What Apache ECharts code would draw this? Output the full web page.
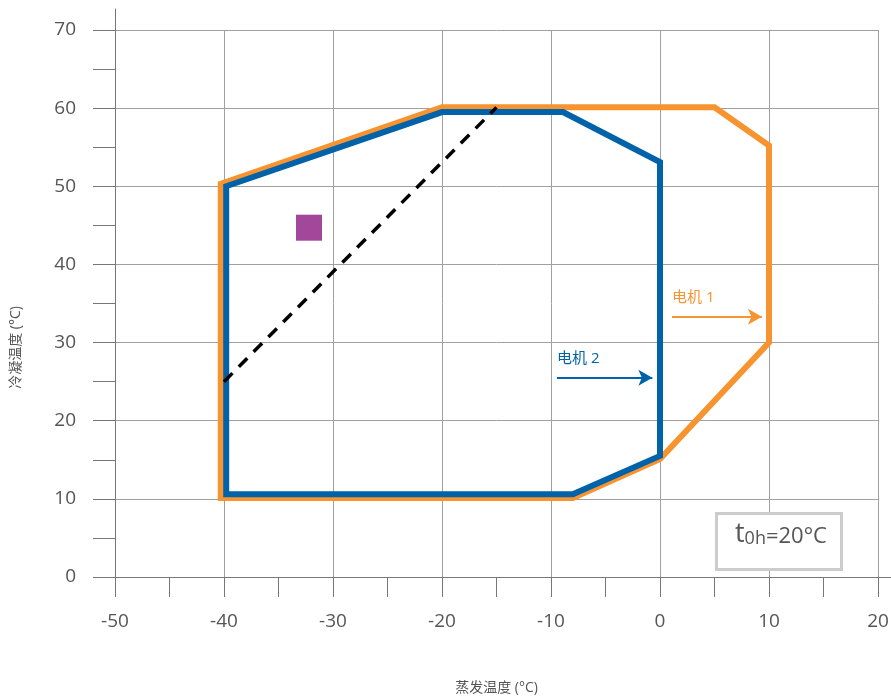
<!DOCTYPE html>
<html>
<head>
<meta charset="utf-8">
<script src="https://cdn.jsdelivr.net/npm/echarts@6/dist/echarts.min.js"></script>
<style>html,body{margin:0;padding:0;background:#fff}#c{width:891px;height:697px}</style>
</head>
<body>
<div id="c"></div>
<script>
// Motor 1 envelope (orange), [evaporating temp, condensing temp]
var motor1X = [-40.3, -40.3, -20, 5, 10, 10, 0, -8, -40.3];
var motor1Y = [10.1, 50.3, 60.1, 60.1, 55.2, 30, 15.1, 10.1, 10.1];
// Motor 2 envelope (blue)
var motor2X = [-39.8, -39.8, -20, -8.9, 0, 0, -8, -39.8];
var motor2Y = [10.6, 50, 59.5, 59.5, 53.1, 15.5, 10.6, 10.6];
// Dashed line
var dashX = [-40, -15];
var dashY = [25, 60.1];
// Purple marker
var markerX = [-32.2];
var markerY = [44.7];
// Annotation arrows
var arrow1X = [1.1, 9.35], arrow1Y = 33.3, arrow1Label = '电机 1';
var arrow2X = [-9.45, -0.7], arrow2Y = 25.5, arrow2Label = '电机 2';
// Axis ticks
var xMin = -50, xMax = 20, xStep = 10;
var yMin = 0, yMax = 70, yStep = 10;
var xName = '蒸发温度 (°C)', yName = '冷凝温度 (°C)';
var boxMain = 't', boxSub = '0h', boxRest = '=20°C';

function pairs(xs, ys){ return xs.map(function(x,i){ return [x, ys[i]]; }); }

var ORANGE = '#F7942F', BLUE = '#0062A8', PURPLE = '#A3479A';
var FONT = '"Open Sans", "Noto Sans CJK SC", sans-serif';
var GRID = '#a0a0a0', AX = '#777777', TXT = '#555555';

var chart = echarts.init(document.getElementById('c'), null, {renderer:'canvas'});
chart.setOption({
  animation: false,
  grid: [
    {left:115, right:13, top:30, bottom:120, containLabel:false, outerBoundsMode:'none'},
    {left:115, right:0, top:9, bottom:120, containLabel:false, outerBoundsMode:'none'}
  ],
  xAxis: [{
    type:'value', gridIndex:0, min:xMin, max:xMax, interval:xStep,
    name: xName, nameLocation:'middle', nameGap:104,
    nameTextStyle:{fontFamily:FONT, fontSize:14, color:TXT},
    axisLine:{show:true, onZero:false, lineStyle:{color:AX, width:1}},
    axisTick:{show:true, length:20, lineStyle:{color:AX}},
    minorTick:{show:true, splitNumber:2, length:20, lineStyle:{color:AX}},
    splitLine:{show:true, lineStyle:{color:GRID, width:1}},
    axisLabel:{margin:35, fontFamily:FONT, fontSize:19, color:TXT}
  },{
    type:'value', gridIndex:1, min:0, max:1,
    axisLine:{show:true, onZero:false, lineStyle:{color:AX, width:1}},
    axisTick:{show:false}, axisLabel:{show:false}, splitLine:{show:false}
  }],
  yAxis: [{
    type:'value', gridIndex:0, min:yMin, max:yMax, interval:yStep,
    name: yName, nameLocation:'middle', nameGap:92, nameRotate:90,
    nameTextStyle:{fontFamily:FONT, fontSize:14, color:TXT, padding:[0,88,0,0]},
    axisLine:{show:true, onZero:false, lineStyle:{color:AX, width:1}},
    axisTick:{show:true, length:22, lineStyle:{color:AX}},
    minorTick:{show:true, splitNumber:2, length:22, lineStyle:{color:AX}},
    splitLine:{show:true, lineStyle:{color:GRID, width:1}},
    axisLabel:{margin:39, fontFamily:FONT, fontSize:19, color:TXT}
  },{
    type:'value', gridIndex:1, min:0, max:1,
    axisLine:{show:true, onZero:false, lineStyle:{color:AX, width:1}},
    axisTick:{show:false}, axisLabel:{show:false}, splitLine:{show:false}
  }],
  series: [
    {
      type:'line', name:'电机 1', xAxisIndex:0, yAxisIndex:0,
      data: pairs(motor1X, motor1Y), showSymbol:false, symbol:'none',
      lineStyle:{color:ORANGE, width:6, join:'miter', cap:'square'},
      z:3,
      markLine:{
        silent:true, symbol:['none','arrow'], symbolSize:[12,14],
        lineStyle:{color:ORANGE, width:2, type:'solid'},
        label:{show:true, position:'insideStartTop', formatter:arrow1Label, color:ORANGE,
               fontFamily:FONT, fontSize:15, distance:[0,12]},
        data:[[{coord:[arrow1X[0], arrow1Y]},{coord:[arrow1X[1], arrow1Y]}]]
      }
    },
    {
      type:'line', name:'电机 2', xAxisIndex:0, yAxisIndex:0,
      data: pairs(motor2X, motor2Y), showSymbol:false, symbol:'none',
      lineStyle:{color:BLUE, width:6, join:'miter', cap:'square'},
      z:4,
      markLine:{
        silent:true, symbol:['none','arrow'], symbolSize:[12,14],
        lineStyle:{color:BLUE, width:2, type:'solid'},
        label:{show:true, position:'insideStartTop', formatter:arrow2Label, color:BLUE,
               fontFamily:FONT, fontSize:15, distance:[0,12]},
        data:[[{coord:[arrow2X[0], arrow2Y]},{coord:[arrow2X[1], arrow2Y]}]]
      }
    },
    {
      type:'line', xAxisIndex:0, yAxisIndex:0,
      data: pairs(dashX, dashY), showSymbol:false, symbol:'none',
      lineStyle:{color:'#000', width:3.5, type:[12,9]}, z:5
    },
    {
      type:'scatter', xAxisIndex:0, yAxisIndex:0,
      data: pairs(markerX, markerY), symbol:'rect', symbolSize:26,
      itemStyle:{color:PURPLE, opacity:1}, z:5
    }
  ],
  graphic: [
    {type:'rect', left:715, top:512, z:10,
     shape:{width:125, height:56},
     style:{fill:'#fff', stroke:'#cccccc', lineWidth:3}},
    {type:'text', left:735, top:521, z:11,
     style:{
       text:'{a|'+boxMain+'}{b|'+boxSub+'}{c|'+boxRest+'}',
       rich:{
         a:{fontFamily:FONT, fontSize:27, fill:TXT, verticalAlign:'bottom'},
         b:{fontFamily:FONT, fontSize:18, fill:TXT, verticalAlign:'bottom'},
         c:{fontFamily:FONT, fontSize:22, fill:TXT, verticalAlign:'bottom'}
       }
     }}
  ]
});
</script>
</body>
</html>
